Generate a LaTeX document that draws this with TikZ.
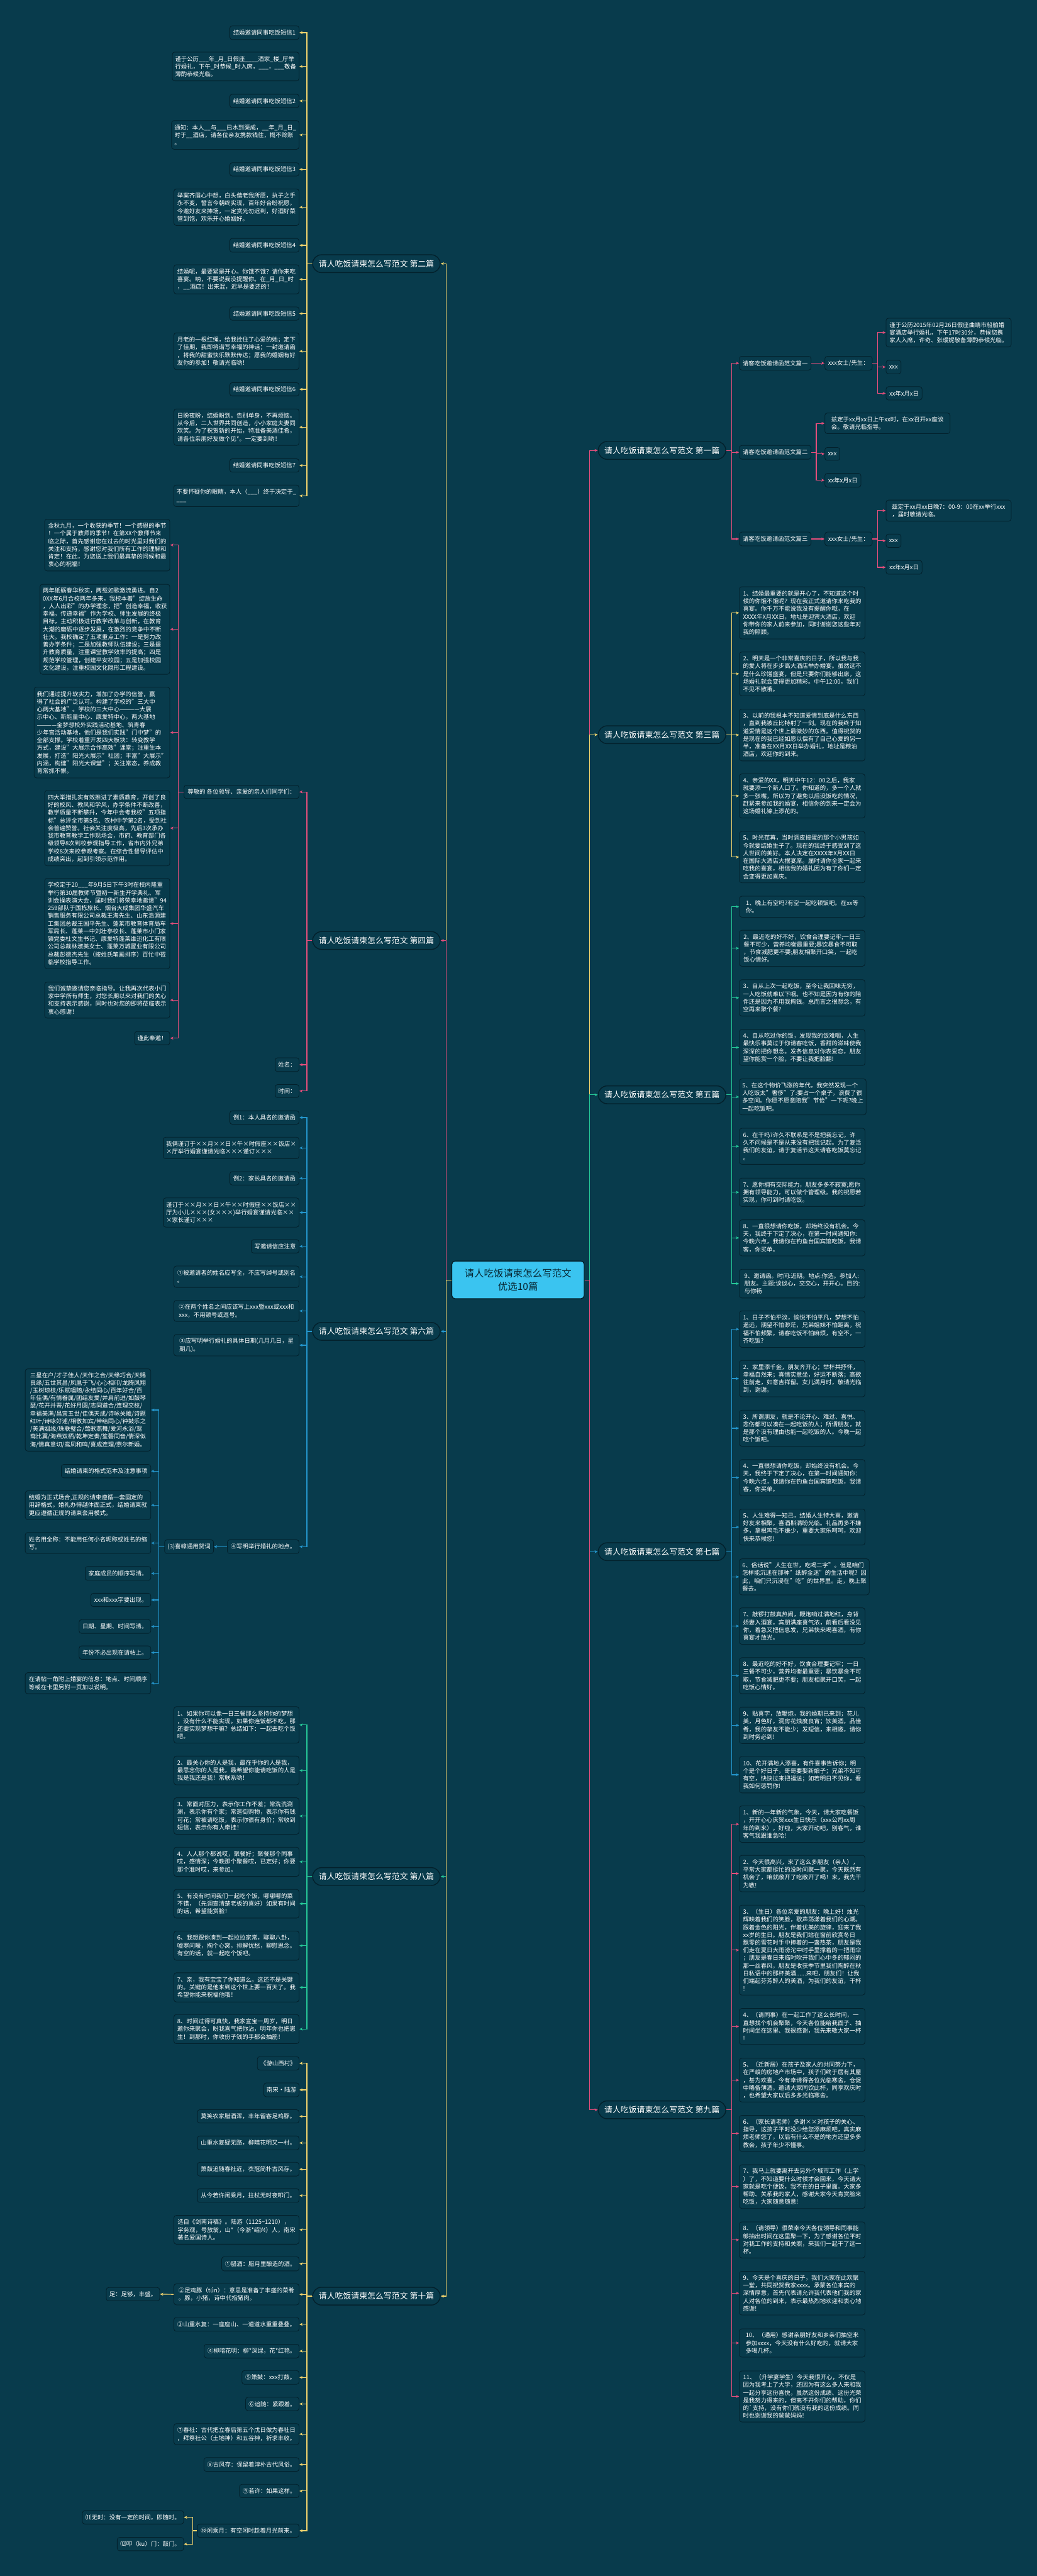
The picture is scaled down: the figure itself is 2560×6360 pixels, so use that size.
\documentclass[tikz,border=0pt]{standalone}
\usepackage{fontspec}
\setmainfont{Noto Sans CJK SC}
\usetikzlibrary{arrows.meta}
\definecolor{bg}{RGB}{8,59,76}
\definecolor{bord}{RGB}{3,33,44}
\definecolor{yl}{RGB}{245,214,110}
\definecolor{pk}{RGB}{230,78,124}
\definecolor{bl}{RGB}{36,150,205}
\definecolor{gn}{RGB}{38,200,152}
\definecolor{rootc}{RGB}{58,196,240}
\definecolor{roott}{RGB}{8,40,52}
\tikzset{
 leaf/.style={draw=bord, fill=bg, line width=1.3pt, rounded corners=6pt, text=white, font=\fontsize{14.6}{19}\selectfont, align=left, inner xsep=7pt, inner ysep=3pt},
 lvl/.style={draw=bord, fill=bg, line width=2.2pt, rounded corners=22pt, text=white, font=\fontsize{20}{24}\selectfont, minimum width=315pt, minimum height=44pt, inner sep=4pt},
 rootn/.style={draw=bord, fill=rootc, line width=2.2pt, rounded corners=8pt, text=roott, font=\fontsize{24}{32}\selectfont, align=center, minimum width=327pt, minimum height=93pt},
 arr/.style={line width=1.8pt, -{Stealth[length=8pt,width=7pt]}},
}
\newcommand\MyL[6]{\node[leaf,anchor=north east,minimum width={(#3-#2)*1pt},minimum height={(#5-#4)*1pt}] (#1) at (#3,#4) {#6};}
\newcommand\MyR[6]{\node[leaf,anchor=north west,minimum width={(#3-#2)*1pt},minimum height={(#5-#4)*1pt}] (#1) at (#2,#4) {#6};}
\begin{document}
\begin{tikzpicture}[x=1pt,y=-1pt]
\fill[bg] (0,0) rectangle (2560,6360);
\useasboundingbox (0,0) rectangle (2560,6360);

% root and level-1
\node[rootn] (root) at (1279,3160) {请人吃饭请柬怎么写范文\\优选10篇};
\node[lvl,anchor=west] (b1) at (1476,1112) {请人吃饭请柬怎么写范文 第一篇};
\node[lvl,anchor=west] (b3) at (1476,1814) {请人吃饭请柬怎么写范文 第三篇};
\node[lvl,anchor=west] (b5) at (1476,2703) {请人吃饭请柬怎么写范文 第五篇};
\node[lvl,anchor=west] (b7) at (1476,3831) {请人吃饭请柬怎么写范文 第七篇};
\node[lvl,anchor=west] (b9) at (1476,5209) {请人吃饭请柬怎么写范文 第九篇};
\node[lvl,anchor=east] (b2) at (1088,651) {请人吃饭请柬怎么写范文 第二篇};
\node[lvl,anchor=east] (b4) at (1088,2322) {请人吃饭请柬怎么写范文 第四篇};
\node[lvl,anchor=east] (b6) at (1088,3287) {请人吃饭请柬怎么写范文 第六篇};
\node[lvl,anchor=east] (b8) at (1088,4633) {请人吃饭请柬怎么写范文 第八篇};
\node[lvl,anchor=east] (b10) at (1088,5669) {请人吃饭请柬怎么写范文 第十篇};

% ---------- 第二篇
\MyL{s1}{568}{739}{63}{97}{结婚邀请同事吃饭短信1}
\MyL{t1}{430}{739}{128}{199}{谨于公历\_\_\_年\_月\_日假座\_\_\_\_酒家\_楼\_厅举\\行婚礼，下午\_时恭候\_时入席，\_\_\_，\_\_\_敬备\\薄酌恭候光临。}
\MyL{s2}{568}{739}{232}{265}{结婚邀请同事吃饭短信2}
\MyL{t2}{430}{739}{297}{368}{通知：本人\_\_与\_\_\_已水到渠成，\_\_年\_月\_日\_\\时于\_\_酒店，请各位亲友携款钱往，概不赊账\\。}
\MyL{s3}{568}{739}{401}{434}{结婚邀请同事吃饭短信3}
\MyL{t3}{430}{739}{466}{556}{举案齐眉心中想，白头偕老我所愿，执子之手\\永不变，誓言今朝终实现，百年好合盼祝愿，\\今邀好友来捧场，一定赏光勿迟到，好酒好菜\\管到饱，欢乐开心婚姻好。}
\MyL{s4}{568}{739}{588}{622}{结婚邀请同事吃饭短信4}
\MyL{t4}{430}{739}{653}{725}{结婚呢，最要紧是开心。你饿不饿？请你来吃\\喜宴。呐，不要说我没提醒你。在\_月\_日\_时\\，\_\_酒店！出来混，迟早是要还的！}
\MyL{s5}{568}{739}{757}{790}{结婚邀请同事吃饭短信5}
\MyL{t5}{430}{739}{821}{912}{月老的一根红绳，给我拴住了心爱的她；定下\\了佳期，我即将谱写幸福的神话；一封邀请函\\，将我的甜蜜快乐默默传达；愿我的婚姻有好\\友你的参加！敬请光临哟！}
\MyL{s6}{568}{739}{944}{977}{结婚邀请同事吃饭短信6}
\MyL{t6}{430}{739}{1009}{1099}{日盼夜盼，结婚盼到。告别单身，不再烦恼。\\从今后，二人世界共同创造，小小家庭夫妻同\\欢笑。为了祝贺新的开始，特准备美酒佳肴，\\请各位亲朋好友做个见*。一定要到哟！}
\MyL{s7}{568}{739}{1132}{1165}{结婚邀请同事吃饭短信7}
\MyL{t7}{430}{739}{1197}{1250}{不要怀疑你的眼睛，本人（\_\_\_）终于决定于\_\\\_\_\_}

% ---------- 第四篇
\MyL{zj}{455}{739}{1938}{1971}{尊敬的 各位领导、亲爱的亲人们同学们：}
\MyL{xm}{680}{739}{2611}{2645}{姓名：}
\MyL{sj}{680}{739}{2677}{2709}{时间：}
\MyL{a1}{111}{420}{1281}{1409}{金秋九月，一个收获的季节！一个感恩的季节\\！一个属于教师的季节！在第XX个教师节来\\临之际，首先感谢您在过去的时光里对我们的\\关注和支持，感谢您对我们所有工作的理解和\\肯定！在此，为您送上我们最真挚的问候和最\\衷心的祝福！}
\MyL{a2}{111}{420}{1442}{1664}{两年砥砺春华秋实，两载如歌激流勇进。自2\\0XX年6月合校两年多来，我校本着"绽放生命\\，人人出彩"的办学理念，把"创造幸福，收获\\幸福，传递幸福"作为学校、师生发展的终极\\目标，主动积极进行教学改革与创新，在教育\\大潮的磨砺中逐步发展，在激烈的竞争中不断\\壮大。我校确定了五项重点工作：一是努力改\\善办学条件；二是加强教师队伍建设；三是提\\升教育质量，注重课堂教学效率的提高；四是\\规范学校管理，创建平安校园；五是加强校园\\文化建设，注重校园文化隐形工程建设。}
\MyL{a3}{111}{420}{1696}{1920}{我们通过提升软实力，增加了办学的信誉，赢\\得了社会的广泛认可。构建了学校的"三大中\\心两大基地"。学校的三大中心————大展\\示中心、新能量中心、康爱特中心，两大基地\\————金梦想校外实践活动基地、筑青春\\少年宫活动基地，他们是我们实践"门中梦"的\\全部支撑。学校着重开发四大板块：转变教学\\方式，建设"大展示合作高效"课堂；注重生本\\发展，打造"阳光大展示"社团；丰富"大展示"\\内涵，构建"阳光大课堂"；关注常态，养成教\\育常抓不懈。}
\MyL{a4}{111}{420}{1951}{2137}{四大举措扎实有效推进了素质教育，开创了良\\好的校风、教风和学风，办学条件不断改善，\\教学质量不断攀升，今年中会考我校"五项指\\标"总评全市第5名、农村中学第2名，受到社\\会普遍赞誉。社会关注度极高，先后3次承办\\我市教育教学工作现场会，市府、教育部门各\\级领导8次到校参观指导工作，省市内外兄弟\\学校8次来校参观考察。在综合性督导评估中\\成绩突出，起到引领示范作用。}
\MyL{a5}{111}{420}{2168}{2391}{学校定于20\_\_\_年9月5日下午3时在校内隆重\\举行第30届教师节暨初一新生开学典礼、军\\训会操表演大会，届时我们将荣幸地邀请"94\\259部队于国栋旅长、烟台大成集团华盛汽车\\销售服务有限公司总裁王海先生、山东浩源建\\工集团总裁王国平先生、蓬莱市教育体育局车\\军局长、蓬莱一中刘壮亭校长、蓬莱市小门家\\镇党委杜文生书记、康爱特蓬莱维迅化工有限\\公司总裁林淑美女士、蓬莱万城置业有限公司\\总裁彭德杰先生（按姓氏笔画排序）百忙中莅\\临学校指导工作。}
\MyL{a6}{111}{420}{2424}{2513}{我们诚挚邀请您亲临指导。让我再次代表小门\\家中学所有师生，对您长期以来对我们的关心\\和支持表示感谢，同时也对您的即将莅临表示\\衷心感谢！}
\MyL{a7}{333}{420}{2546}{2579}{谨此奉邀！}

% ---------- 第六篇
\MyL{e1}{568}{739}{2742}{2775}{例1：本人具名的邀请函}
\MyL{e2}{430}{739}{2807}{2860}{我俩谨订于××月××日×午×时假座××饭店×\\×厅举行婚宴谨请光临×××谨订×××}
\MyL{e3}{568}{739}{2892}{2925}{例2：家长具名的邀请函}
\MyL{e4}{430}{739}{2957}{3029}{谨订于××月××日×午××时假座××饭店××\\厅为小儿×××(女×××)举行婚宴谨请光临××\\×家长谨订×××}
\MyL{e5}{621}{739}{3060}{3093}{写邀请信应注意}
\MyL{e6}{430}{739}{3125}{3178}{①被邀请者的姓名应写全，不应写绰号或别名\\。}
\MyL{e7}{430}{739}{3210}{3262}{②在两个姓名之间应该写上xxx暨xxx或xxx和\\xxx，不用顿号或逗号。}
\MyL{e8}{430}{739}{3294}{3347}{③应写明举行婚礼的具体日期(几月几日，星\\期几)。}
\MyL{n4}{562}{739}{3801}{3835}{④写明举行婚礼的地点。}
\MyL{x3}{407}{528}{3801}{3835}{(3)喜幛通用贺词}
\MyL{g1}{63}{373}{3379}{3582}{三星在户/才子佳人/天作之合/天缘巧合/天赐\\良缘/五世其昌/凤凰于飞/心心相印/龙腾凤翔\\/玉树琼枝/乐赋唱随/永结同心/百年好合/百\\年佳偶/有情眷属/团结友爱/并肩前进/如鼓琴\\瑟/花开并蒂/花好月圆/志同道合/连理交枝/\\幸福美满/昌宜五世/佳偶天成/诗咏关雎/诗题\\红叶/诗咏好逑/相敬如宾/带结同心/钟鼓乐之\\/美满姻缘/珠联璧合/莺歌燕舞/爱河永浴/鸳\\鸯比翼/海燕双栖/乾坤定奏/笙磬同音/情深似\\海/情真意切/鸾凤和鸣/喜成连理/燕尔新婚。}
\MyL{g2}{152}{373}{3615}{3648}{结婚请柬的格式范本及注意事项}
\MyL{g3}{63}{373}{3680}{3751}{结婚为正式场合,正规的请柬遵循一套固定的\\用辞格式。婚礼办得越体面正式，结婚请柬就\\更应遵循正规的请柬套用模式。}
\MyL{g4}{63}{373}{3783}{3835}{姓名用全称：不能用任何小名昵称或姓名的缩\\写。}
\MyL{g5}{211}{373}{3867}{3901}{家庭成员的顺序写清。}
\MyL{g6}{225}{373}{3933}{3966}{xxx和xxx字要出现。}
\MyL{g7}{196}{373}{3998}{4032}{日期、星期、时间写清。}
\MyL{g8}{196}{373}{4063}{4096}{年份不必出现在请帖上。}
\MyL{g9}{63}{373}{4129}{4181}{在请帖一角附上婚宴的信息：地点、时间顺序\\等或在卡里另附一页加以说明。}

% ---------- 第八篇
\MyL{h1}{430}{739}{4213}{4303}{1、如果你可以像一日三餐那么坚持你的梦想\\，没有什么不能实现。如果你连饭都不吃，那\\还要实现梦想干嘛？总结如下：一起去吃个饭\\吧。}
\MyL{h2}{430}{739}{4335}{4406}{2、最关心你的人是我，最在乎你的人是我，\\最思念你的人是我，最希望你能请吃饭的人是\\我是我还是我！常联系哟！}
\MyL{h3}{430}{739}{4438}{4528}{3、常面对压力，表示你工作不差；常洗洗涮\\涮，表示你有个家；常逛街购物，表示你有钱\\可花；常被请吃饭，表示你很有身价；常收到\\短信，表示你有人牵挂！}
\MyL{h4}{430}{739}{4560}{4632}{4、人人那个都说哎，聚餐好；聚餐那个同事\\哎，感情深；今晚那个聚餐哎，已定好；你要\\那个准时哎，来参加。}
\MyL{h5}{430}{739}{4664}{4735}{5、有没有时间我们一起吃个饭，哪哪哪的菜\\不错，（先调查清楚老板的喜好）如果有时间\\的话，希望能赏脸！}
\MyL{h6}{430}{739}{4767}{4839}{6、我想跟你凑到一起拉拉家常，聊聊八卦，\\嘘寒问暖，掏个心窝，排解忧愁，聊慰思念。\\有空的话，就一起吃个饭吧。}
\MyL{h7}{430}{739}{4870}{4942}{7、亲，我有宝宝了你知道么。这还不是关键\\的。关键的是他来到这个世上要一百天了。我\\希望你能来祝福他哦！}
\MyL{h8}{430}{739}{4973}{5045}{8、时间过得可真快，我家宣宝一周岁，明日\\邀你来聚会，盼我喜气把你沾，明年你也把崽\\生！到那时，你收份子钱的手都会抽筋！}

% ---------- 第十篇
\MyL{k1}{636}{739}{5077}{5110}{《游山西村》}
\MyL{k2}{662}{739}{5142}{5176}{南宋·陆游}
\MyL{k3}{488}{739}{5208}{5241}{莫笑农家腊酒浑，丰年留客足鸡豚。}
\MyL{k4}{488}{739}{5273}{5307}{山重水复疑无路，柳暗花明又一村。}
\MyL{k5}{488}{739}{5338}{5372}{箫鼓追随春社近，衣冠简朴古风存。}
\MyL{k6}{488}{739}{5403}{5437}{从今若许闲乘月，拄杖无时夜叩门。}
\MyL{ks}{430}{739}{5469}{5540}{选自《剑南诗稿》。陆游（1125\textasciitilde1210），\\字务观，号放翁，山*（今浙*绍兴）人，南宋\\著名爱国诗人。}
\MyL{m1}{548}{739}{5571}{5606}{①腊酒：腊月里酿造的酒。}
\MyL{m2}{430}{739}{5638}{5690}{②足鸡豚（tún）：意思是准备了丰盛的菜肴\\。豚，小猪，诗中代指猪肉。}
\MyL{zu}{263}{395}{5647}{5680}{足：足够，丰盛。}
\MyL{m3}{430}{739}{5721}{5755}{③山重水复：一座座山、一道道水重重叠叠。}
\MyL{m4}{505}{739}{5787}{5821}{④柳暗花明：柳*深绿，花*红艳。}
\MyL{m5}{598}{739}{5852}{5886}{⑤箫鼓：xxx打鼓。}
\MyL{m6}{607}{739}{5918}{5951}{⑥追随：紧跟着。}
\MyL{m7}{430}{739}{5983}{6035}{⑦春社：古代把立春后第五个戊日做为春社日\\，拜祭社公（土地神）和五谷神，祈求丰收。}
\MyL{m8}{504}{739}{6067}{6101}{⑧古风存：保留着淳朴古代风俗。}
\MyL{m9}{592}{739}{6133}{6166}{⑨若许：如果这样。}
\MyL{m10}{488}{739}{6231}{6264}{⑩闲乘月：有空闲时趁着月光前来。}
\MyL{m11}{204}{454}{6198}{6231}{⑾无时：没有一定的时间，即随时。}
\MyL{m12}{290}{454}{6264}{6297}{⑿叩（ku）门：敲门。}

% ---------- 第一篇
\MyR{p1}{1825}{2002}{879}{913}{请客吃饭邀请函范文篇一}
\MyR{xf1}{2036}{2153}{879}{913}{xxx女士/先生：}
\MyR{q1}{2187}{2496}{785}{856}{谨于公历2015年02月26日假座曲靖市船舶婚\\宴酒店举行婚礼，下午17时30分，恭候您携\\家人入席，许奇、张瑷妮敬备薄酌恭候光临。}
\MyR{q2}{2187}{2224}{889}{922}{xxx}
\MyR{q3}{2187}{2276}{954}{987}{xx年x月x日}
\MyR{p2}{1825}{2002}{1099}{1133}{请客吃饭邀请函范文篇二}
\MyR{r1}{2036}{2345}{1019}{1070}{兹定于xx月xx日上午xx时，在xx召开xx座谈\\会。敬请光临指导。}
\MyR{r2}{2036}{2073}{1104}{1136}{xxx}
\MyR{r3}{2036}{2125}{1168}{1202}{xx年x月x日}
\MyR{p3}{1825}{2002}{1313}{1347}{请客吃饭邀请函范文篇三}
\MyR{xf3}{2036}{2153}{1313}{1347}{xxx女士/先生：}
\MyR{u1}{2187}{2496}{1234}{1286}{兹定于xx月xx日晚7：00-9：00在xx举行xxx\\，届时敬请光临。}
\MyR{u2}{2187}{2224}{1318}{1351}{xxx}
\MyR{u3}{2187}{2276}{1383}{1417}{xx年x月x日}

% ---------- 第三篇
\MyR{c1}{1825}{2135}{1448}{1577}{1、结婚最重要的就是开心了，不知道这个时\\候的你饿不饿呢？现在我正式邀请你来吃我的\\喜宴。你千万不能说我没有提醒你哦，在\\XXXX年X月XX日，地址是迎宾大酒店，欢迎\\你带你的家人前来参加，同时谢谢您这些年对\\我的照顾。}
\MyR{c2}{1825}{2135}{1609}{1717}{2、明天是一个非常喜庆的日子，所以我与我\\的爱人将在步步高大酒店举办婚宴。虽然这不\\是什么珍馐盛宴，但是只要你们能够出席，这\\场婚礼就会变得更加精彩。中午12:00，我们\\不见不散哦。}
\MyR{c3}{1825}{2135}{1750}{1878}{3、以前的我根本不知道爱情到底是什么东西\\，直到我被丘比特射了一剑。现在的我终于知\\道爱情是这个世上最微妙的东西。值得祝贺的\\是现在的我已经如愿以偿有了自己心爱的另一\\半，准备在XX月XX日举办婚礼，地址是粮油\\酒店，欢迎你的到来。}
\MyR{c4}{1825}{2135}{1910}{2019}{4、亲爱的XX，明天中午12：00之后，我家\\就要添一个新人口了。你知道的，多一个人就\\多一张嘴，所以为了避免以后没饭吃的情况，\\赶紧来参加我的婚宴，相信你的到来一定会为\\这场婚礼锦上添花的。}
\MyR{c5}{1825}{2135}{2052}{2179}{5、时光荏苒，当时调皮捣蛋的那个小男孩如\\今就要结婚生子了。现在的我终于感受到了这\\人世间的美好。本人决定在XXXX年X月XX日\\在国际大酒店大摆宴席。届时请你全家一起来\\吃我的喜宴，相信我的婚礼因为有了你们一定\\会变得更加喜庆。}

% ---------- 第五篇
\MyR{d1}{1825}{2135}{2212}{2264}{1、晚上有空吗?有空一起吃顿饭吧。在xx等\\你。}
\MyR{d2}{1825}{2135}{2296}{2385}{2、最近吃的好不好，饮食合理要记牢;一日三\\餐不可少，营养均衡最重要;暴饮暴食不可取\\，节食减肥更不要;朋友相聚开口笑，一起吃\\饭心情好。}
\MyR{d3}{1825}{2135}{2418}{2508}{3、自从上次一起吃饭，至今让我回味无穷，\\一人吃饭就难以下咽。也不知是因为有你的陪\\伴还是因为不用我掏钱。总而言之很想念，有\\空再来聚个餐?}
\MyR{d4}{1825}{2135}{2541}{2630}{4、自从吃过你的饭，发现我的饭难咽，人生\\最快乐事莫过于你请客吃饭，香甜的滋味使我\\深深的把你想念。发条信息对你表爱恋，朋友\\望你能赏一个脸，不要让我把脸翻!}
\MyR{d5}{1825}{2135}{2663}{2752}{5、在这个物价飞涨的年代，我突然发现一个\\人吃饭太"奢侈"了:要占一个桌子，浪费了很\\多空间。你愿不愿意陪我"节俭"一下呢?晚上\\一起吃饭吧。}
\MyR{d6}{1825}{2135}{2785}{2874}{6、在干吗?许久不联系是不是把我忘记，许\\久不问候是不是从来没有把我记起。为了复活\\我们的友谊，请于复活节这天请客吃饭莫忘记\\。}
\MyR{d7}{1825}{2135}{2908}{2978}{7、愿你拥有交际能力，朋友多多不寂寞;愿你\\拥有领导能力，可以做个管理级。我的祝愿若\\实现，你可到时请吃饭。}
\MyR{d8}{1825}{2135}{3011}{3100}{8、一直很想请你吃饭，却始终没有机会。今\\天，我终于下定了决心，在第一时间通知你:\\今晚六点，我请你在钓鱼台国宾馆吃饭，我请\\客，你买单。}
\MyR{d9}{1825}{2135}{3133}{3204}{9、邀请函。时间:近期。地点:你选。参加人:\\朋友。主题:谈谈心，交交心，开开心。目的:\\与你畅}

% ---------- 第七篇
\MyR{f1}{1825}{2135}{3236}{3326}{1、日子不怕平淡，愉悦不怕平凡，梦想不怕\\遥远，期望不怕渺茫，兄弟姐妹不怕距离，祝\\福不怕频繁，请客吃饭不怕麻烦，有空不，一\\齐吃饭?}
\MyR{f2}{1825}{2135}{3358}{3448}{2、家里添千金，朋友齐开心；举杯共抒怀，\\幸福自然来；真情实意坐，好运不断落；高歌\\往前走，如意吉祥留。女儿满月时，敬请光临\\到，谢谢。}
\MyR{f3}{1825}{2135}{3481}{3570}{3、所谓朋友，就是不论开心、难过、喜悦、\\悲伤都可以凑在一起吃饭的人；所谓朋友，就\\是那个没有理由也能一起吃饭的人。今晚一起\\吃个饭吧。}
\MyR{f4}{1825}{2135}{3603}{3692}{4、一直很想请你吃饭，却始终没有机会。今\\天，我终于下定了决心，在第一时间通知你：\\今晚六点，我请你在钓鱼台国宾馆吃饭，我请\\客，你买单。}
\MyR{f5}{1825}{2135}{3725}{3814}{5、人生难得一知己，结婚人生特大喜，邀请\\好友来相聚，喜酒斟满盼光临。礼品再多不嫌\\多，拿根鸡毛不嫌少，重要大家乐呵呵，欢迎\\快来恭候您!}
\MyR{f6}{1825}{2135}{3848}{3937}{6、俗话说"人生在世，吃喝二字"。但是咱们\\怎样能沉迷在那种"纸醉金迷"的生活中呢？因\\此，咱们只沉浸在"吃"的世界里。走，晚上聚\\餐去。}
\MyR{f7}{1825}{2135}{3969}{4059}{7、敲锣打鼓真热闹，鞭炮响过满地红，身背\\娇妻入酒宴，宾朋满座喜气浓，前看后看没见\\你，着急又把信息发，兄弟快来喝喜酒，有你\\喜宴才放光。}
\MyR{f8}{1825}{2135}{4092}{4181}{8、最近吃的好不好，饮食合理要记牢；一日\\三餐不可少，营养均衡最重要；暴饮暴食不可\\取，节食减肥更不要；朋友相聚开口笑，一起\\吃饭心情好。}
\MyR{f9}{1825}{2135}{4214}{4304}{9、贴喜字，放鞭炮，我的婚期已来到；花儿\\美，月色好，洞房花烛度良宵；饮美酒，品佳\\肴，我的挚友不能少；发短信，来相邀，请你\\到时务必到!}
\MyR{f10}{1825}{2135}{4336}{4426}{10、花开满地人添喜，有件喜事告诉你；明\\个是个好日子，哥哥要娶新娘子；兄弟不知可\\有空，快快过来把福送；如若明日不见你，看\\我如何惩罚你!}

% ---------- 第九篇
\MyR{j1}{1825}{2135}{4458}{4548}{1、新的一年新的气象，今天，请大家吃餐饭\\，开开心心庆贺xxx生日快乐（xxx公司xx周\\年的到来），好啦，大家开动吧，别客气，谁\\客气我跟谁急哈!}
\MyR{j2}{1825}{2135}{4580}{4670}{2、今天很高兴，来了这么多朋友（亲人），\\平常大家都挺忙的没时间聚一聚，今天既然有\\机会了，咱就敞开了吃敞开了喝！来，我先干\\为敬!}
\MyR{j3}{1825}{2135}{4703}{4925}{3、（生日）各位亲爱的朋友：晚上好！烛光\\辉映着我们的笑脸，歌声荡漾着我们的心潮。\\跟着金色的阳光，伴着优美的旋律，迎来了我\\xx岁的生日。朋友是我们站在窗前欣赏冬日\\飘零的雪花时手中捧着的一盏热茶，朋友是我\\们走在夏日大雨滂沱中时手里撑着的一把雨伞\\；朋友是春日来临时吹开我们心中冬的郁闷的\\那一丝春风，朋友是收获季节里我们陶醉在秋\\日私语中的那杯美酒......来吧，朋友们！让我\\们端起芬芳醉人的美酒，为我们的友谊，干杯\\!}
\MyR{j4}{1825}{2135}{4958}{5047}{4、（请同事）在一起工作了这么长时间，一\\直想找个机会聚聚，今天各位能给我面子、抽\\时间坐在这里、我很感谢，我先来敬大家一杯\\!}
\MyR{j5}{1825}{2135}{5081}{5189}{5、（迁新居）在孩子及家人的共同努力下，\\在严峻的房地产市场中，孩子们终于居有其屋\\，甚为欢喜，今有幸请得各位光临寒舍，仓促\\中略备薄酒，邀请大家同饮此杯，同享欢庆时\\，也希望大家以后多多光临寒舍。}
\MyR{j6}{1825}{2135}{5222}{5311}{6、（家长请老师）多谢××对孩子的关心、\\指导，这孩子平时没少给您添麻烦吧，真实麻\\烦老师您了，以后有什么不是的地方还望多多\\教会，孩子年少不懂事。}
\MyR{j7}{1825}{2135}{5344}{5452}{7、我马上就要离开去另外个城市工作（上学\\）了，不知道要什么时候才会回来，今天请大\\家就是吃个便饭，我不在的日子里面。大家多\\帮助、关系我的家人，感谢大家今天肯赏脸来\\吃饭，大家随意随意!}
\MyR{j8}{1825}{2135}{5485}{5574}{8、（请领导）很荣幸今天各位领导和同事能\\够抽出时间在这里聚一下，为了感谢各位平时\\对我工作的支持和关照，来我们一起干了这一\\杯。}
\MyR{j9}{1825}{2135}{5607}{5715}{9、今天是个喜庆的日子，我们大家在此欢聚\\一堂，共同祝贺我家xxxx。承蒙各位来宾的\\深情厚意，首先代表请允许我代表他们我的家\\人对各位的到来，表示最热烈地欢迎和衷心地\\感谢!}
\MyR{j10}{1825}{2135}{5749}{5819}{10、（通用）感谢亲朋好友和乡亲们抽空来\\参加xxxx，今天没有什么好吃的，就请大家\\多喝几杯。}
\MyR{j11}{1825}{2135}{5853}{5979}{11、（升学宴学生）今天我很开心，不仅是\\因为我考上了大学，还因为有这么多人来和我\\一起分享这份喜悦，虽然这份成绩、这份光荣\\是我努力得来的，但离不开你们的帮助，你们\\的\textasciigrave 支持，没有你们就没有我的这份成绩。同\\时也谢谢我的爸爸妈妈!}

% ---------- connectors: root
\draw[arr,pk] (root.east) -- ++(12,0) |- (b1.west);
\draw[arr,yl] (root.east) -- ++(12,0) |- (b3.west);
\draw[arr,gn] (root.east) -- ++(12,0) |- (b5.west);
\draw[arr,bl] (root.east) -- ++(12,0) |- (b7.west);
\draw[arr,pk] (root.east) -- ++(12,0) |- (b9.west);
\draw[arr,yl] (root.west) -- ++(-13,0) |- (b2.east);
\draw[arr,pk] (root.west) -- ++(-13,0) |- (b4.east);
\draw[arr,bl] (root.west) -- ++(-13,0) |- (b6.east);
\draw[arr,gn] (root.west) -- ++(-13,0) |- (b8.east);
\draw[arr,yl] (root.west) -- ++(-13,0) |- (b10.east);

% left groups
\foreach \c in {s1,t1,s2,t2,s3,t3,s4,t4,s5,t5,s6,t6,s7,t7}
  {\draw[arr,yl] (b2.west) -- ++(-13,0) |- (\c.east);}
\foreach \c in {zj,xm,sj}
  {\draw[arr,pk] (b4.west) -- ++(-13,0) |- (\c.east);}
\foreach \c in {a1,a2,a3,a4,a5,a6,a7}
  {\draw[arr,pk] (zj.west) -- ++(-14,0) |- (\c.east);}
\foreach \c in {e1,e2,e3,e4,e5,e6,e7,e8,n4}
  {\draw[arr,bl] (b6.west) -- ++(-13,0) |- (\c.east);}
\draw[arr,bl] (n4.west) -- (x3.east);
\foreach \c in {g1,g2,g3,g4,g5,g6,g7,g8,g9}
  {\draw[arr,bl] (x3.west) -- ++(-13,0) |- (\c.east);}
\foreach \c in {h1,h2,h3,h4,h5,h6,h7,h8}
  {\draw[arr,gn] (b8.west) -- ++(-13,0) |- (\c.east);}
\foreach \c in {k1,k2,k3,k4,k5,k6,ks,m1,m2,m3,m4,m5,m6,m7,m8,m9,m10}
  {\draw[arr,yl] (b10.west) -- ++(-13,0) |- (\c.east);}
\draw[arr,yl] (m2.west) -- (zu.east);
\foreach \c in {m11,m12}
  {\draw[arr,yl] (m10.west) -- ++(-11,0) |- (\c.east);}

% right groups
\foreach \c in {p1,p2,p3}
  {\draw[arr,pk] (b1.east) -- ++(14,0) |- (\c.west);}
\draw[arr,pk] (p1.east) -- (xf1.west);
\draw[arr,pk] (p3.east) -- (xf3.west);
\foreach \c in {q1,q2,q3}
  {\draw[arr,pk] (xf1.east) -- ++(13,0) |- (\c.west);}
\foreach \c in {r1,r2,r3}
  {\draw[arr,pk] (p2.east) -- ++(12,0) |- (\c.west);}
\foreach \c in {u1,u2,u3}
  {\draw[arr,pk] (xf3.east) -- ++(13,0) |- (\c.west);}
\foreach \c in {c1,c2,c3,c4,c5}
  {\draw[arr,yl] (b3.east) -- ++(14,0) |- (\c.west);}
\foreach \c in {d1,d2,d3,d4,d5,d6,d7,d8,d9}
  {\draw[arr,gn] (b5.east) -- ++(14,0) |- (\c.west);}
\foreach \c in {f1,f2,f3,f4,f5,f6,f7,f8,f9,f10}
  {\draw[arr,bl] (b7.east) -- ++(14,0) |- (\c.west);}
\foreach \c in {j1,j2,j3,j4,j5,j6,j7,j8,j9,j10,j11}
  {\draw[arr,pk] (b9.east) -- ++(14,0) |- (\c.west);}
\end{tikzpicture}
\end{document}
